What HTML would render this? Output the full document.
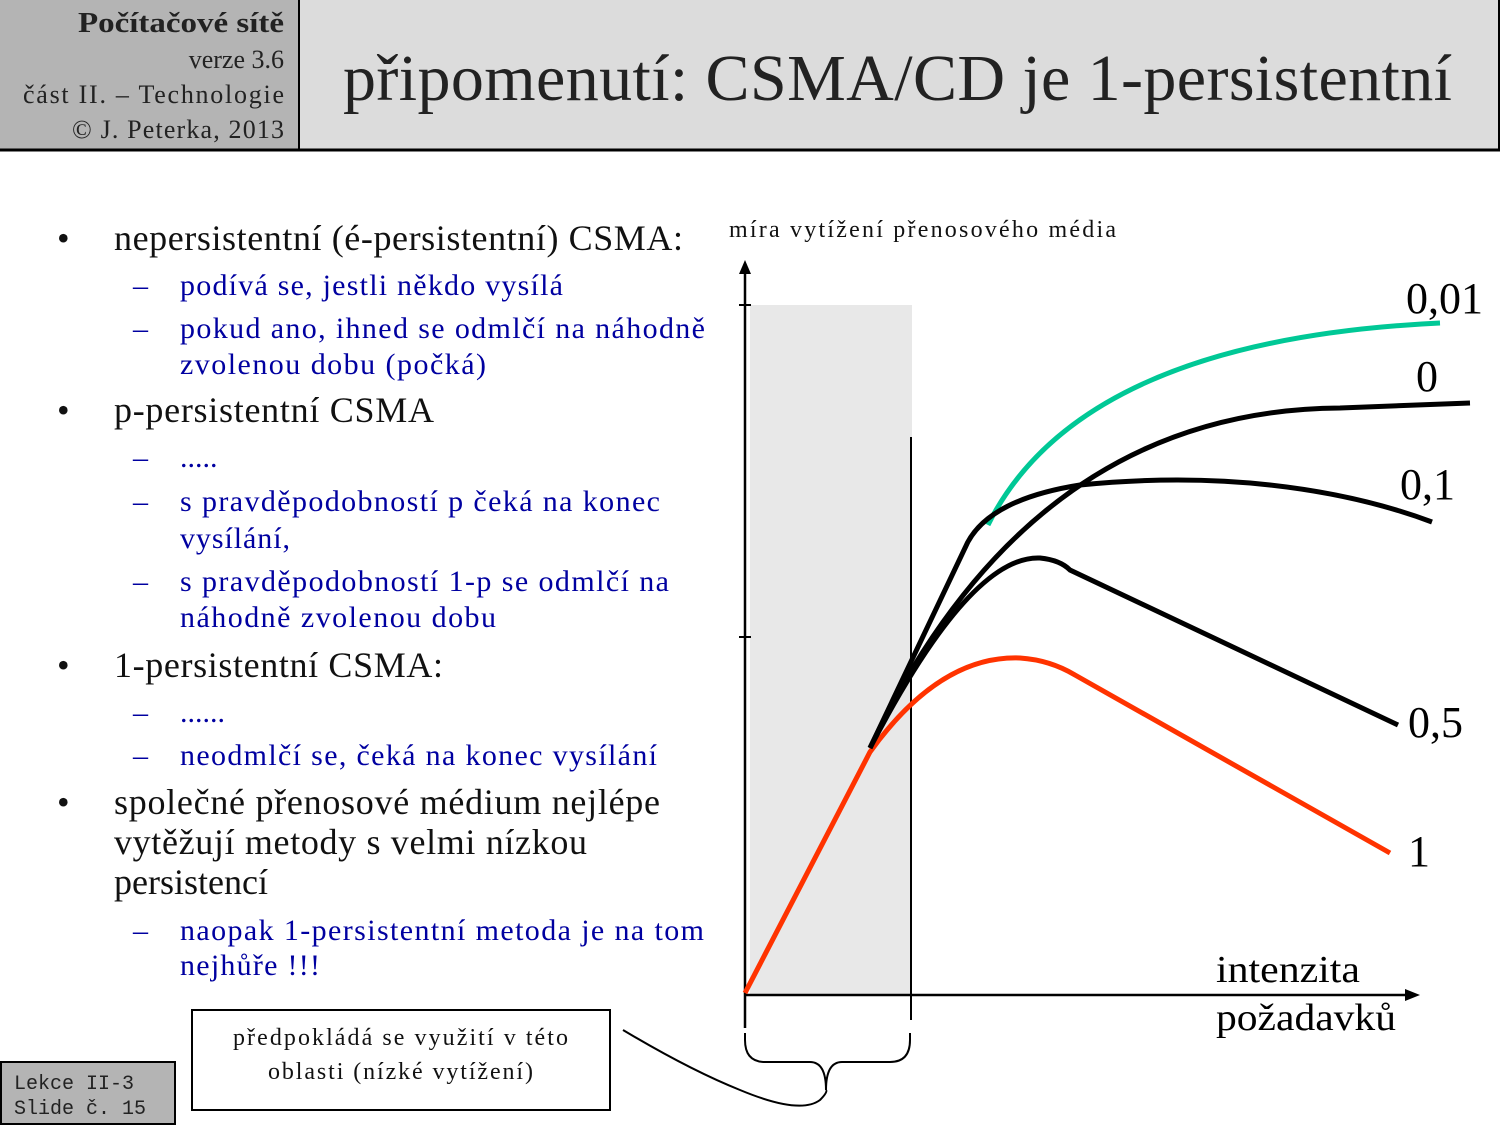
<!DOCTYPE html>
<html><head><meta charset="utf-8"><style>
html,body{margin:0;padding:0;background:#fff}
svg{display:block}
text{font-family:"Liberation Serif",serif}
.b{font-size:36px;fill:#111}
.s{font-size:30px;fill:#0000a0}
</style></head><body>
<svg width="1500" height="1125" viewBox="0 0 1500 1125">
<rect x="0" y="0" width="300" height="150" fill="#b4b4b4"/>
<rect x="300" y="0" width="1200" height="150" fill="#dcdcdc"/>
<line x1="299" y1="0" x2="299" y2="150" stroke="#000" stroke-width="2"/>
<line x1="1499" y1="0" x2="1499" y2="150" stroke="#000" stroke-width="2"/>
<line x1="0" y1="150" x2="1500" y2="150" stroke="#000" stroke-width="3"/>
<text x="78" y="32" textLength="206" lengthAdjust="spacingAndGlyphs" style="font-size:29px;font-weight:bold" fill="#222">Počítačové sítě</text>
<text x="284" y="68" text-anchor="end" style="font-size:26px" fill="#222">verze 3.6</text>
<text x="23" y="103" textLength="261" lengthAdjust="spacing" style="font-size:26px" fill="#222">část  II. –  Technologie</text>
<text x="72" y="138" textLength="212" lengthAdjust="spacing" style="font-size:26px" fill="#222">© J. Peterka,  2013</text>
<text x="343" y="100" textLength="1109" lengthAdjust="spacing" style="font-size:66px" fill="#222">připomenutí: CSMA/CD je 1-persistentní</text>

<g>
<text x="57" y="250" class="b">•</text><text x="114" y="250" class="b" textLength="569" lengthAdjust="spacing">nepersistentní (é-persistentní) CSMA:</text>
<text x="133" y="295" class="s">–</text><text x="180" y="295" class="s" textLength="383" lengthAdjust="spacing">podívá se, jestli někdo vysílá</text>
<text x="133" y="338" class="s">–</text><text x="180" y="338" class="s" textLength="525" lengthAdjust="spacing">pokud ano, ihned se odmlčí na náhodně</text>
<text x="180" y="374" class="s" textLength="306" lengthAdjust="spacing">zvolenou dobu (počká)</text>
<text x="57" y="422" class="b">•</text><text x="114" y="422" class="b" textLength="320" lengthAdjust="spacing">p-persistentní CSMA</text>
<text x="133" y="467" class="s">–</text><text x="180" y="467" class="s">.....</text>
<text x="133" y="511" class="s">–</text><text x="180" y="511" class="s" textLength="480" lengthAdjust="spacing">s pravděpodobností p čeká na konec</text>
<text x="180" y="548" class="s" textLength="110" lengthAdjust="spacing">vysílání,</text>
<text x="133" y="591" class="s">–</text><text x="180" y="591" class="s" textLength="489" lengthAdjust="spacing">s pravděpodobností 1-p se odmlčí na</text>
<text x="180" y="627" class="s" textLength="316" lengthAdjust="spacing">náhodně zvolenou dobu</text>
<text x="57" y="677" class="b">•</text><text x="114" y="677" class="b" textLength="329" lengthAdjust="spacing">1-persistentní CSMA:</text>
<text x="133" y="722" class="s">–</text><text x="180" y="722" class="s">......</text>
<text x="133" y="765" class="s">–</text><text x="180" y="765" class="s" textLength="477" lengthAdjust="spacing">neodmlčí se, čeká na konec vysílání</text>
<text x="57" y="814" class="b">•</text><text x="114" y="814" class="b" textLength="546" lengthAdjust="spacing">společné přenosové médium nejlépe</text>
<text x="114" y="854" class="b" textLength="473" lengthAdjust="spacing">vytěžují metody s velmi nízkou</text>
<text x="114" y="894" class="b">persistencí</text>
<text x="133" y="940" class="s">–</text><text x="180" y="940" class="s" textLength="524" lengthAdjust="spacing">naopak 1-persistentní metoda je na tom</text>
<text x="180" y="975" class="s" textLength="140" lengthAdjust="spacing">nejhůře !!!</text>
</g>

<text x="729" y="237" textLength="387" lengthAdjust="spacing" style="font-size:24px" fill="#111">míra vytížení přenosového média</text>
<rect x="750" y="305" width="162" height="690" fill="#e8e8e8"/>
<line x1="745" y1="1028" x2="745" y2="270" stroke="#000" stroke-width="2.5"/>
<polygon points="745,260 739,274 751,274" fill="#000"/>
<line x1="739" y1="305" x2="751" y2="305" stroke="#000" stroke-width="2"/>
<line x1="739" y1="637" x2="751" y2="637" stroke="#000" stroke-width="2"/>
<line x1="745" y1="995" x2="1410" y2="995" stroke="#000" stroke-width="2.5"/>
<polygon points="1420,995 1405,989 1405,1001" fill="#000"/>
<line x1="911" y1="437" x2="911" y2="1020" stroke="#000" stroke-width="2"/>
<path d="M745,1033 L745,1040 Q745,1062 765,1062 L810,1062 Q826,1062 826,1090 Q826,1062 842,1062 L890,1062 Q910,1062 910,1040 L910,1033" fill="none" stroke="#000" stroke-width="2"/>
<path d="M623,1030 Q690,1070 740,1090 Q800,1115 820,1100 Q828,1092 826,1090" fill="none" stroke="#000" stroke-width="2"/>

<g fill="none" stroke-width="5" stroke-linecap="butt">
<path d="M745,993 L870,752 Q940,655 1020,658 Q1050,660 1075,675 L1390,853" stroke="#ff3300"/>
<path d="M988,525 Q1080,340 1440,323" stroke="#00c896"/>
<path d="M870,748 Q1030,410 1340,408 L1470,403" stroke="#000"/>
<path d="M870,748 L965,548 Q985,500 1080,485 Q1180,475 1270,485 Q1360,495 1432,522" stroke="#000"/>
<path d="M870,748 Q970,555 1040,558 Q1060,560 1070,570 L1398,725" stroke="#000"/>
</g>
<g style="font-size:44px" fill="#000">
<text x="1406" y="313">0,01</text>
<text x="1416" y="391">0</text>
<text x="1400" y="499">0,1</text>
<text x="1408" y="737">0,5</text>
<text x="1408" y="866">1</text>
</g>
<text x="1216" y="982" textLength="144" lengthAdjust="spacingAndGlyphs" style="font-size:38px" fill="#000">intenzita</text>
<text x="1216" y="1030" textLength="180" lengthAdjust="spacingAndGlyphs" style="font-size:38px" fill="#000">požadavků</text>

<rect x="192" y="1010" width="418" height="100" fill="#fff" stroke="#000" stroke-width="2"/>
<text x="233" y="1045" textLength="335" lengthAdjust="spacing" style="font-size:24px" fill="#111">předpokládá se využití v této</text>
<text x="268" y="1079" textLength="265" lengthAdjust="spacing" style="font-size:24px" fill="#111">oblasti (nízké vytížení)</text>

<rect x="1" y="1062" width="174" height="62" fill="#b4b4b4" stroke="#000" stroke-width="2"/>
<text x="14" y="1089" style="font-family:'Liberation Mono',monospace;font-size:20px" fill="#222">Lekce II-3</text>
<text x="14" y="1114" style="font-family:'Liberation Mono',monospace;font-size:20px" fill="#222">Slide č. 15</text>
</svg>
</body></html>
